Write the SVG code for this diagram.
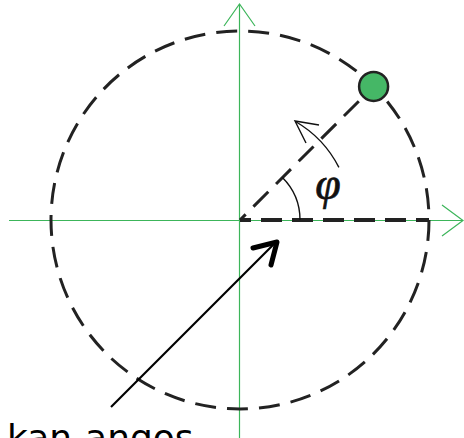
<svg xmlns="http://www.w3.org/2000/svg" width="464" height="438" viewBox="0 0 464 438">
<style>
.axis{stroke:#3cb55a;stroke-width:1.2;fill:none}
.dash{stroke:#222;fill:none}
.thin{stroke:#111;stroke-width:1.4;fill:none}
</style>
<rect width="464" height="438" fill="#fff"/>
<g id="axes">
<line class="axis" x1="239.5" y1="4" x2="239.5" y2="438"/>
<polyline class="axis" points="224,26 239.5,4 255,26"/>
<line class="axis" x1="9" y1="220.5" x2="463" y2="220.5"/>
<polyline class="axis" points="442,205 463,220.5 442,236"/>
</g>
<g id="circle">
<circle class="dash" cx="240" cy="220" r="189" stroke-width="3" stroke-dasharray="21 11.09"/>
</g>
<g id="connectors">
<line class="dash" x1="240" y1="220" x2="429" y2="220" stroke-width="4" stroke-dasharray="21 10" stroke-dashoffset="10"/>
<line class="dash" x1="240" y1="220" x2="373.6" y2="86.4" stroke-width="3" stroke-dasharray="21 11" stroke-dashoffset="13"/>
<path class="thin" d="M300,220 A60,60 0 0 0 282.4,177.6"/>
<path class="thin" d="M338.9,167.4 A112,112 0 0 0 295.5,121.5"/>
<polyline class="thin" points="319,125 295,121 306,143"/>
<line x1="111" y1="407" x2="273" y2="245" stroke="#000" stroke-width="2.2"/>
<polyline points="253,248 277,242 271,265" fill="none" stroke="#000" stroke-width="5" stroke-linejoin="round" stroke-linecap="round"/>
</g>
<g id="dot">
<circle cx="373.6" cy="86.4" r="14.5" fill="#45b766" stroke="#222" stroke-width="2.5"/>
</g>
<g id="labels">
<text x="328" y="199" font-family="Liberation Serif, serif" font-style="italic" font-size="46" text-anchor="middle" fill="#111" stroke="#111" stroke-width="0.7">φ</text>
<text x="7" y="450" font-family="DejaVu Sans, sans-serif" font-size="36" fill="#000">kan-angos</text>
</g>
</svg>
